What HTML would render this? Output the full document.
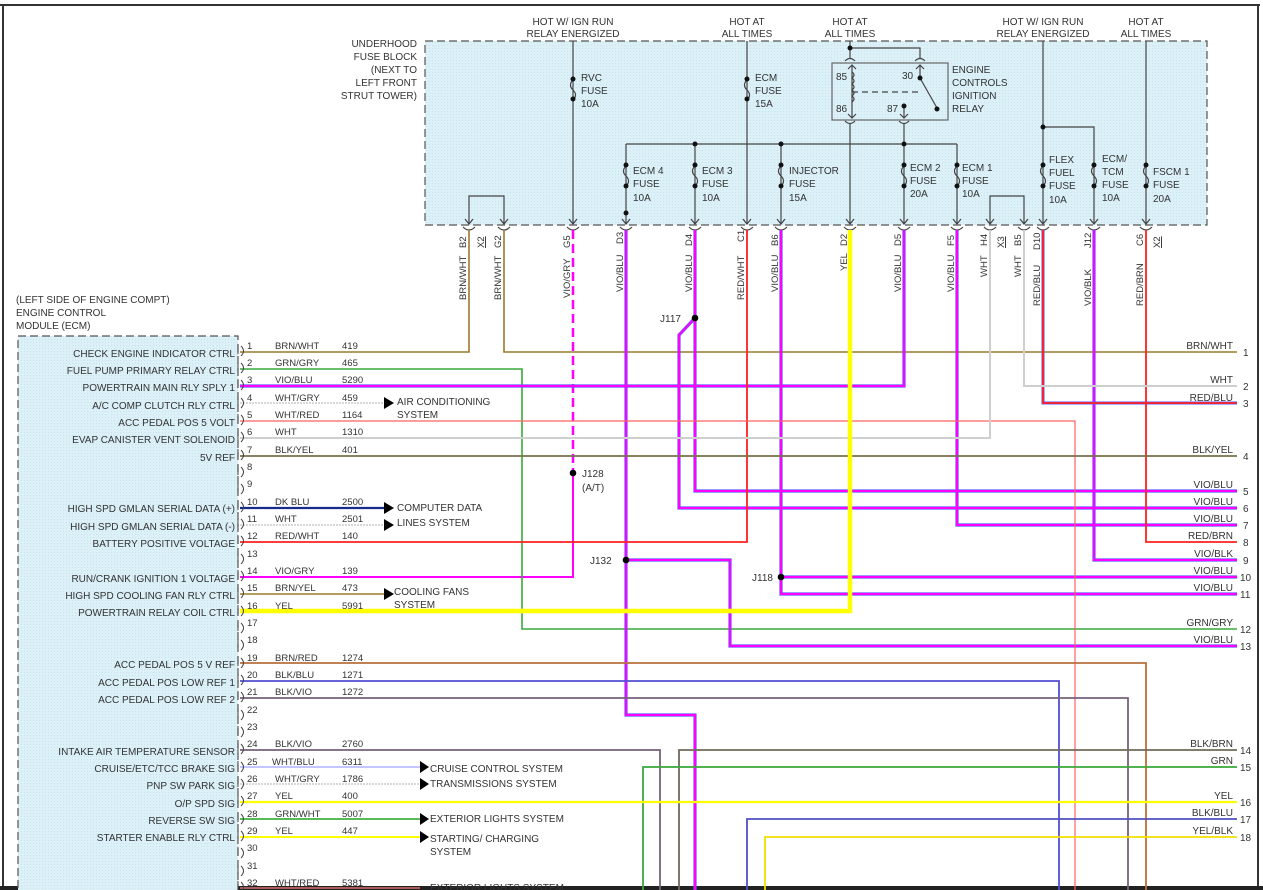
<!DOCTYPE html>
<html><head><meta charset="utf-8"><style>
html,body{margin:0;padding:0;background:#fff;}
svg{display:block;font-family:"Liberation Sans",sans-serif;font-size:10px;fill:#333;}
</style></head><body>
<svg width="1263" height="890" viewBox="0 0 1263 890" xmlns="http://www.w3.org/2000/svg">
<defs>
<pattern id="dots" width="3" height="3" patternUnits="userSpaceOnUse"><rect width="3" height="3" fill="#dcf0f8"/><rect width="1" height="1" fill="#c8e2ee"/></pattern>
</defs>
<rect x="0" y="0" width="1263" height="890" fill="#fff"/>
<!-- frame -->
<line x1="0" y1="5" x2="1260" y2="5" stroke="#333" stroke-width="2"/>
<line x1="3" y1="5" x2="3" y2="890" stroke="#333" stroke-width="2"/>
<line x1="1258" y1="5" x2="1258" y2="890" stroke="#333" stroke-width="2"/>
<rect x="0" y="886" width="1263" height="4" fill="#222"/>

<!-- fuse block -->
<rect x="425" y="41" width="782" height="184" fill="url(#dots)" stroke="#555" stroke-width="1.2" stroke-dasharray="8,4"/>
<!-- ECM -->
<rect x="18" y="336" width="220" height="560" fill="url(#dots)" stroke="#555" stroke-width="1.2" stroke-dasharray="8,4"/>

<g text-anchor="middle">
<text x="573" y="25">HOT W/ IGN RUN</text><text x="573" y="37">RELAY ENERGIZED</text>
<text x="747" y="25">HOT AT</text><text x="747" y="37">ALL TIMES</text>
<text x="850" y="25">HOT AT</text><text x="850" y="37">ALL TIMES</text>
<text x="1043" y="25">HOT W/ IGN RUN</text><text x="1043" y="37">RELAY ENERGIZED</text>
<text x="1146" y="25">HOT AT</text><text x="1146" y="37">ALL TIMES</text>
</g>
<g text-anchor="end">
<text x="417" y="47">UNDERHOOD</text><text x="417" y="60">FUSE BLOCK</text><text x="417" y="73">(NEXT TO</text><text x="417" y="86">LEFT FRONT</text><text x="417" y="99">STRUT TOWER)</text>
</g>

<!-- internal fuse block wiring -->
<g stroke="#444" stroke-width="1.2" fill="none">
<line x1="573" y1="41" x2="573" y2="224"/>
<line x1="747" y1="41" x2="747" y2="224"/>
<polyline points="469,224 469,196 504,196 504,224"/>
<polyline points="990,224 990,196 1024,196 1024,224"/>
<line x1="626" y1="144" x2="957" y2="144"/>
<line x1="626" y1="144" x2="626" y2="224"/>
<line x1="695" y1="144" x2="695" y2="224"/>
<line x1="781" y1="144" x2="781" y2="224"/>
<line x1="904" y1="124" x2="904" y2="224"/>
<line x1="957" y1="144" x2="957" y2="224"/>
<line x1="850" y1="41" x2="850" y2="58"/>
<polyline points="850,48 920,48 920,58"/>
<line x1="850" y1="124" x2="850" y2="224"/>
<line x1="1043" y1="41" x2="1043" y2="224"/>
<polyline points="1043,127 1094,127 1094,224"/>
<line x1="1146" y1="41" x2="1146" y2="224"/>
<rect x="832" y="63" width="116" height="57" stroke="#666"/>
<line x1="852" y1="66" x2="852" y2="117"/>
<line x1="920" y1="66" x2="920" y2="78"/>
<line x1="920" y1="78" x2="937" y2="108"/>
<line x1="904" y1="106" x2="904" y2="117"/>
<line x1="852" y1="92" x2="920" y2="92" stroke-dasharray="6,4"/>
</g>
<!-- fuse symbols: white gap + s curve -->
<g stroke="#444" stroke-width="1.2" fill="none">
<path d="M573,80 q-5,5 0,10 q5,5 0,10" /><path d="M747,80 q-5,5 0,10 q5,5 0,10"/>
<path d="M626,166 q-5,5 0,10 q5,5 0,10"/><path d="M695,166 q-5,5 0,10 q5,5 0,10"/>
<path d="M781,166 q-5,5 0,10 q5,5 0,10"/><path d="M904,166 q-5,5 0,10 q5,5 0,10"/>
<path d="M957,166 q-5,5 0,10 q5,5 0,10"/><path d="M1043,166 q-5,5 0,10 q5,5 0,10"/>
<path d="M1094,166 q-5,5 0,10 q5,5 0,10"/><path d="M1146,166 q-5,5 0,10 q5,5 0,10"/>
<path d="M852,72 q4,3 0,6 q4,3 0,6 q4,3 0,6 q4,3 0,6 q4,3 0,6"/>
</g>
<g fill="#111">
<circle cx="573" cy="79" r="2.5"/><circle cx="573" cy="99" r="2.5"/>
<circle cx="747" cy="79" r="2.5"/><circle cx="747" cy="99" r="2.5"/>
<circle cx="626" cy="165" r="2.5"/><circle cx="626" cy="186" r="2.5"/><circle cx="626" cy="213" r="2.5"/>
<circle cx="695" cy="165" r="2.5"/><circle cx="695" cy="186" r="2.5"/>
<circle cx="781" cy="165" r="2.5"/><circle cx="781" cy="186" r="2.5"/>
<circle cx="904" cy="165" r="2.5"/><circle cx="904" cy="186" r="2.5"/>
<circle cx="957" cy="165" r="2.5"/><circle cx="957" cy="186" r="2.5"/>
<circle cx="1043" cy="165" r="2.5"/><circle cx="1043" cy="186" r="2.5"/>
<circle cx="1094" cy="165" r="2.5"/><circle cx="1094" cy="186" r="2.5"/>
<circle cx="1146" cy="165" r="2.5"/><circle cx="1146" cy="186" r="2.5"/>
<circle cx="695" cy="144" r="2.5"/><circle cx="781" cy="144" r="2.5"/><circle cx="904" cy="144" r="2.5"/>
<circle cx="850" cy="48" r="2.5"/><circle cx="1043" cy="127" r="2.5"/>
<circle cx="920" cy="78" r="2.5"/><circle cx="937" cy="109" r="2.5"/><circle cx="904" cy="106" r="2.5"/>
</g>
<!-- cups in/out relay -->
<g stroke="#444" stroke-width="1.2" fill="none">
<path d="M845,61 q5,-5 10,0"/><path d="M915,61 q5,-5 10,0"/>
<path d="M845,121 q5,5 10,0"/><path d="M899,121 q5,5 10,0"/>
<path d="M848,69 l4,-4 l4,4"/><path d="M916,69 l4,-4 l4,4"/>
<path d="M848,114 l4,4 l4,-4"/><path d="M900,114 l4,4 l4,-4"/>
</g>
<text x="836" y="80">85</text><text x="836" y="112">86</text><text x="902" y="79">30</text><text x="887" y="112">87</text>
<text x="952" y="73">ENGINE</text><text x="952" y="86">CONTROLS</text><text x="952" y="99">IGNITION</text><text x="952" y="112">RELAY</text>

<g>
<text x="581" y="81">RVC</text><text x="581" y="94">FUSE</text><text x="581" y="107">10A</text>
<text x="755" y="81">ECM</text><text x="755" y="94">FUSE</text><text x="755" y="107">15A</text>
<text x="633" y="174">ECM 4</text><text x="633" y="187">FUSE</text><text x="633" y="201">10A</text>
<text x="702" y="174">ECM 3</text><text x="702" y="187">FUSE</text><text x="702" y="201">10A</text>
<text x="789" y="174">INJECTOR</text><text x="789" y="187">FUSE</text><text x="789" y="201">15A</text>
<text x="910" y="171">ECM 2</text><text x="910" y="184">FUSE</text><text x="910" y="197">20A</text>
<text x="962" y="171">ECM 1</text><text x="962" y="184">FUSE</text><text x="962" y="197">10A</text>
<text x="1049" y="163">FLEX</text><text x="1049" y="176">FUEL</text><text x="1049" y="189">FUSE</text><text x="1049" y="203">10A</text>
<text x="1102" y="162">ECM/</text><text x="1102" y="175">TCM</text><text x="1102" y="188">FUSE</text><text x="1102" y="201">10A</text>
<text x="1153" y="175">FSCM 1</text><text x="1153" y="188">FUSE</text><text x="1153" y="202">20A</text>
</g>

<!-- arrows & cups at bottom of fuse block -->
<g stroke="#444" stroke-width="1.2" fill="none">
<path d="M465,219 l4,5 l4,-5 M500,219 l4,5 l4,-5 M569,219 l4,5 l4,-5 M622,219 l4,5 l4,-5 M691,219 l4,5 l4,-5 M743,219 l4,5 l4,-5 M777,219 l4,5 l4,-5 M846,219 l4,5 l4,-5 M900,219 l4,5 l4,-5 M953,219 l4,5 l4,-5 M986,219 l4,5 l4,-5 M1020,219 l4,5 l4,-5 M1039,219 l4,5 l4,-5 M1090,219 l4,5 l4,-5 M1142,219 l4,5 l4,-5"/>
<path d="M463,227 q6,6 12,0 M498,227 q6,6 12,0 M567,227 q6,6 12,0 M620,227 q6,6 12,0 M689,227 q6,6 12,0 M741,227 q6,6 12,0 M775,227 q6,6 12,0 M844,227 q6,6 12,0 M898,227 q6,6 12,0 M951,227 q6,6 12,0 M984,227 q6,6 12,0 M1018,227 q6,6 12,0 M1037,227 q6,6 12,0 M1088,227 q6,6 12,0 M1140,227 q6,6 12,0"/>
</g>

<!-- vertical connector labels -->
<g font-size="9.5">
<text transform="translate(466,248) rotate(-90)">B2</text><text transform="translate(466,300) rotate(-90)">BRN/WHT</text>
<text transform="translate(484,248) rotate(-90)" text-decoration="underline">X2</text>
<text transform="translate(501,248) rotate(-90)">G2</text><text transform="translate(501,300) rotate(-90)">BRN/WHT</text>
<text transform="translate(570,248) rotate(-90)">G5</text><text transform="translate(570,298) rotate(-90)">VIO/GRY</text>
<text transform="translate(623,244) rotate(-90)">D3</text><text transform="translate(623,292) rotate(-90)">VIO/BLU</text>
<text transform="translate(692,246) rotate(-90)">D4</text><text transform="translate(692,292) rotate(-90)">VIO/BLU</text>
<text transform="translate(744,242) rotate(-90)">C1</text><text transform="translate(744,300) rotate(-90)">RED/WHT</text>
<text transform="translate(778,246) rotate(-90)">B6</text><text transform="translate(778,292) rotate(-90)">VIO/BLU</text>
<text transform="translate(847,246) rotate(-90)">D2</text><text transform="translate(847,271) rotate(-90)">YEL</text>
<text transform="translate(901,246) rotate(-90)">D5</text><text transform="translate(901,292) rotate(-90)">VIO/BLU</text>
<text transform="translate(954,246) rotate(-90)">F5</text><text transform="translate(954,292) rotate(-90)">VIO/BLU</text>
<text transform="translate(987,246) rotate(-90)">H4</text><text transform="translate(987,277) rotate(-90)">WHT</text>
<text transform="translate(1004,248) rotate(-90)" text-decoration="underline">X3</text>
<text transform="translate(1021,246) rotate(-90)">B5</text><text transform="translate(1021,277) rotate(-90)">WHT</text>
<text transform="translate(1040,250) rotate(-90)">D10</text><text transform="translate(1040,306) rotate(-90)">RED/BLU</text>
<text transform="translate(1091,248) rotate(-90)">J12</text><text transform="translate(1091,306) rotate(-90)">VIO/BLK</text>
<text transform="translate(1143,246) rotate(-90)">C6</text><text transform="translate(1143,306) rotate(-90)">RED/BRN</text>
<text transform="translate(1160,248) rotate(-90)" text-decoration="underline">X2</text>
</g>

<!-- wires -->
<g fill="none" stroke-linejoin="miter">
<!-- brown/wht -->
<polyline points="469,230 469,352 240,352" stroke="#9c7a2c" stroke-width="1.6"/>
<polyline points="504,230 504,352 1237,352" stroke="#9c7a2c" stroke-width="1.6"/>
<!-- G5 dashed magenta to J128 -->
<line x1="573" y1="230" x2="573" y2="473" stroke="#ff00ff" stroke-width="2.5" stroke-dasharray="9,5"/>
<polyline points="573,473 573,577 240,577" stroke="#ff00ff" stroke-width="2"/>
<!-- row 2 GRN/GRY -->
<polyline points="240,369 522,369 522,629 1237,629" stroke="#3aa83a" stroke-width="1.6"/>
<!-- VIO/BLU style: blue under, magenta over -->
<g stroke="#5a5aff" stroke-width="3.2">
<polyline points="626,230 626,715 695,715 695,890"/>
<polyline points="626,560 730,560 730,646 1237,646"/>
<polyline points="695,230 695,491 1237,491"/>
<polyline points="695,318 679,335 679,508 1237,508"/>
<polyline points="781,230 781,594 1237,594"/>
<polyline points="781,577 1237,577"/>
<polyline points="904,230 904,386 240,386"/>
<polyline points="957,230 957,525 1237,525"/>
<polyline points="1094,230 1094,560 1237,560"/>
</g>
<g stroke="#ff00ff" stroke-width="2">
<polyline points="626,230 626,715 695,715 695,890"/>
<polyline points="626,560 730,560 730,646 1237,646"/>
<polyline points="695,230 695,491 1237,491"/>
<polyline points="695,318 679,335 679,508 1237,508"/>
<polyline points="781,230 781,594 1237,594"/>
<polyline points="781,577 1237,577"/>
<polyline points="904,230 904,386 240,386"/>
<polyline points="957,230 957,525 1237,525"/>
<polyline points="1094,230 1094,560 1237,560"/>
</g>
<!-- reds -->
<polyline points="747,230 747,542 240,542" stroke="#ff2020" stroke-width="1.8"/>
<polyline points="1043,230 1043,403 1237,403" stroke="#5a5aff" stroke-width="3"/>
<polyline points="1043,230 1043,403 1237,403" stroke="#ff2020" stroke-width="1.8"/>
<polyline points="1146,230 1146,542 1237,542" stroke="#ff2020" stroke-width="1.8"/>
<polyline points="240,421 1075,421 1075,890" stroke="#ff6060" stroke-width="1.2"/>
<!-- whites -->
<polyline points="990,230 990,438 240,438" stroke="#cfcfcf" stroke-width="2"/>
<polyline points="1024,230 1024,386 1237,386" stroke="#cfcfcf" stroke-width="2"/>
<!-- BLK/YEL -->
<line x1="240" y1="456" x2="1237" y2="456" stroke="#77704a" stroke-width="1.8"/>
<!-- yellow thick -->
<polyline points="850,230 850,611 240,611" stroke="#ffff00" stroke-width="4.5"/>
<!-- arrow stubs -->
<line x1="240" y1="403" x2="384" y2="403" stroke="#cccccc" stroke-width="1.5" stroke-dasharray="2,1"/>
<line x1="240" y1="508" x2="384" y2="508" stroke="#1a2a8a" stroke-width="2.2"/>
<line x1="240" y1="525" x2="384" y2="525" stroke="#cccccc" stroke-width="1.5" stroke-dasharray="2,1"/>
<line x1="240" y1="594" x2="384" y2="594" stroke="#9c7a2c" stroke-width="1.6"/>
<!-- lower rows -->
<polyline points="240,663 1146,663 1146,890" stroke="#b8703c" stroke-width="1.8"/>
<polyline points="240,681 1059,681 1059,890" stroke="#5050d0" stroke-width="1.8"/>
<polyline points="240,698 1128,698 1128,890" stroke="#76627a" stroke-width="1.8"/>
<polyline points="240,750 660,750 660,890" stroke="#76627a" stroke-width="1.8"/>
<polyline points="1237,750 679,750 679,890" stroke="#706a58" stroke-width="1.8"/>
<polyline points="1237,767 643,767 643,890" stroke="#3aa83a" stroke-width="1.8"/>
<line x1="240" y1="802" x2="1237" y2="802" stroke="#ffff00" stroke-width="2.2"/>
<polyline points="1237,819 747,819 747,890" stroke="#5050c0" stroke-width="1.8"/>
<polyline points="1237,837 765,837 765,890" stroke="#f0e000" stroke-width="1.8"/>
<line x1="240" y1="767" x2="420" y2="767" stroke="#b0b0ff" stroke-width="1.6"/>
<line x1="240" y1="784" x2="420" y2="784" stroke="#cccccc" stroke-width="1.5" stroke-dasharray="2,1"/>
<line x1="240" y1="819" x2="420" y2="819" stroke="#40b040" stroke-width="1.8"/>
<line x1="240" y1="837" x2="420" y2="837" stroke="#ffff00" stroke-width="2"/>
<line x1="240" y1="888" x2="420" y2="888" stroke="#ff8080" stroke-width="1.2"/>
</g>
<!-- arrowheads -->
<g fill="#000">
<path d="M384,397 l10,6 l-10,6z"/><path d="M384,502 l10,6 l-10,6z"/><path d="M384,519 l10,6 l-10,6z"/><path d="M384,588 l10,6 l-10,6z"/>
<path d="M420,761 l9,6 l-9,6z"/><path d="M420,778 l9,6 l-9,6z"/><path d="M420,813 l9,6 l-9,6z"/><path d="M420,831 l9,6 l-9,6z"/>
</g>
<!-- splices -->
<g fill="#000"><circle cx="695" cy="318" r="3.3"/><circle cx="573" cy="473" r="3.3"/><circle cx="626" cy="560" r="3.3"/><circle cx="781" cy="577" r="3.3"/></g>
<text x="660" y="322">J117</text><text x="582" y="477">J128</text><text x="582" y="491">(A/T)</text><text x="590" y="564">J132</text><text x="752" y="581">J118</text>
<text x="397" y="405">AIR CONDITIONING</text><text x="397" y="418">SYSTEM</text>
<text x="397" y="511">COMPUTER DATA</text><text x="397" y="526">LINES SYSTEM</text>
<text x="394" y="595">COOLING FANS</text><text x="394" y="608">SYSTEM</text>
<text x="430" y="772">CRUISE CONTROL SYSTEM</text><text x="430" y="787">TRANSMISSIONS SYSTEM</text>
<text x="430" y="822">EXTERIOR LIGHTS SYSTEM</text><text x="430" y="842">STARTING/ CHARGING</text><text x="430" y="855">SYSTEM</text>
<text x="430" y="891">EXTERIOR LIGHTS SYSTEM</text>

<!-- ECM title -->
<text x="16" y="303">(LEFT SIDE OF ENGINE COMPT)</text><text x="16" y="316">ENGINE CONTROL</text><text x="16" y="329">MODULE (ECM)</text>

<!-- ECM pin cups -->
<g stroke="#444" stroke-width="1" fill="none">
<path d="M238,345 v9 M241,346 q5,5 0,10 M238,362 v9 M241,363 q5,5 0,10 M238,379 v9 M241,380 q5,5 0,10 M238,397 v9 M241,398 q5,5 0,10 M238,414 v9 M241,415 q5,5 0,10 M238,431 v9 M241,432 q5,5 0,10 M238,449 v9 M241,450 q5,5 0,10 M238,466 v9 M241,467 q5,5 0,10 M238,483 v9 M241,484 q5,5 0,10 M238,501 v9 M241,502 q5,5 0,10 M238,518 v9 M241,519 q5,5 0,10 M238,535 v9 M241,536 q5,5 0,10 M238,553 v9 M241,554 q5,5 0,10 M238,570 v9 M241,571 q5,5 0,10 M238,587 v9 M241,588 q5,5 0,10 M238,605 v9 M241,606 q5,5 0,10 M238,622 v9 M241,623 q5,5 0,10 M238,639 v9 M241,640 q5,5 0,10 M238,657 v9 M241,658 q5,5 0,10 M238,674 v9 M241,675 q5,5 0,10 M238,691 v9 M241,692 q5,5 0,10 M238,709 v9 M241,710 q5,5 0,10 M238,726 v9 M241,727 q5,5 0,10 M238,743 v9 M241,744 q5,5 0,10 M238,761 v9 M241,762 q5,5 0,10 M238,778 v9 M241,779 q5,5 0,10 M238,795 v9 M241,796 q5,5 0,10 M238,813 v9 M241,814 q5,5 0,10 M238,830 v9 M241,831 q5,5 0,10 M238,847 v9 M241,848 q5,5 0,10 M238,865 v9 M241,866 q5,5 0,10 M238,881 v9 M241,882 q5,5 0,10"/>
</g>
<!-- ECM labels -->
<g text-anchor="end">
<text x="235" y="357">CHECK ENGINE INDICATOR CTRL</text>
<text x="235" y="374">FUEL PUMP PRIMARY RELAY CTRL</text>
<text x="235" y="391">POWERTRAIN MAIN RLY SPLY 1</text>
<text x="235" y="409">A/C COMP CLUTCH RLY CTRL</text>
<text x="235" y="426">ACC PEDAL POS 5 VOLT</text>
<text x="235" y="443">EVAP CANISTER VENT SOLENOID</text>
<text x="235" y="461">5V REF</text>
<text x="235" y="512">HIGH SPD GMLAN SERIAL DATA (+)</text>
<text x="235" y="530">HIGH SPD GMLAN SERIAL DATA (-)</text>
<text x="235" y="547">BATTERY POSITIVE VOLTAGE</text>
<text x="235" y="582">RUN/CRANK IGNITION 1 VOLTAGE</text>
<text x="235" y="599">HIGH SPD COOLING FAN RLY CTRL</text>
<text x="235" y="616">POWERTRAIN RELAY COIL CTRL</text>
<text x="235" y="668">ACC PEDAL POS 5 V REF</text>
<text x="235" y="686">ACC PEDAL POS LOW REF 1</text>
<text x="235" y="703">ACC PEDAL POS LOW REF 2</text>
<text x="235" y="755">INTAKE AIR TEMPERATURE SENSOR</text>
<text x="235" y="772">CRUISE/ETC/TCC BRAKE SIG</text>
<text x="235" y="789">PNP SW PARK SIG</text>
<text x="235" y="807">O/P SPD SIG</text>
<text x="235" y="824">REVERSE SW SIG</text>
<text x="235" y="841">STARTER ENABLE RLY CTRL</text>
</g>
<!-- pin numbers, colors, circuits -->
<g font-size="9.5">
<text x="247" y="349">1</text><text x="275" y="349">BRN/WHT</text><text x="342" y="349">419</text>
<text x="247" y="366">2</text><text x="275" y="366">GRN/GRY</text><text x="342" y="366">465</text>
<text x="247" y="383">3</text><text x="275" y="383">VIO/BLU</text><text x="342" y="383">5290</text>
<text x="247" y="401">4</text><text x="275" y="401">WHT/GRY</text><text x="342" y="401">459</text>
<text x="247" y="418">5</text><text x="275" y="418">WHT/RED</text><text x="342" y="418">1164</text>
<text x="247" y="435">6</text><text x="275" y="435">WHT</text><text x="342" y="435">1310</text>
<text x="247" y="453">7</text><text x="275" y="453">BLK/YEL</text><text x="342" y="453">401</text>
<text x="247" y="470">8</text>
<text x="247" y="487">9</text>
<text x="247" y="505">10</text><text x="275" y="505">DK BLU</text><text x="342" y="505">2500</text>
<text x="247" y="522">11</text><text x="275" y="522">WHT</text><text x="342" y="522">2501</text>
<text x="247" y="539">12</text><text x="275" y="539">RED/WHT</text><text x="342" y="539">140</text>
<text x="247" y="557">13</text>
<text x="247" y="574">14</text><text x="275" y="574">VIO/GRY</text><text x="342" y="574">139</text>
<text x="247" y="591">15</text><text x="275" y="591">BRN/YEL</text><text x="342" y="591">473</text>
<text x="247" y="609">16</text><text x="275" y="609">YEL</text><text x="342" y="609">5991</text>
<text x="247" y="626">17</text>
<text x="247" y="643">18</text>
<text x="247" y="661">19</text><text x="275" y="661">BRN/RED</text><text x="342" y="661">1274</text>
<text x="247" y="678">20</text><text x="275" y="678">BLK/BLU</text><text x="342" y="678">1271</text>
<text x="247" y="695">21</text><text x="275" y="695">BLK/VIO</text><text x="342" y="695">1272</text>
<text x="247" y="713">22</text>
<text x="247" y="730">23</text>
<text x="247" y="747">24</text><text x="275" y="747">BLK/VIO</text><text x="342" y="747">2760</text>
<text x="247" y="765">25</text><text x="272" y="765">WHT/BLU</text><text x="342" y="765">6311</text>
<text x="247" y="782">26</text><text x="275" y="782">WHT/GRY</text><text x="342" y="782">1786</text>
<text x="247" y="799">27</text><text x="275" y="799">YEL</text><text x="342" y="799">400</text>
<text x="247" y="817">28</text><text x="275" y="817">GRN/WHT</text><text x="342" y="817">5007</text>
<text x="247" y="834">29</text><text x="275" y="834">YEL</text><text x="342" y="834">447</text>
<text x="247" y="851">30</text>
<text x="247" y="869">31</text>
<text x="247" y="886">32</text><text x="275" y="886">WHT/RED</text><text x="342" y="886">5381</text>
</g>
<!-- right labels -->
<g text-anchor="end">
<text x="1233" y="349">BRN/WHT</text><text x="1233" y="383">WHT</text><text x="1233" y="401">RED/BLU</text>
<text x="1233" y="453">BLK/YEL</text><text x="1233" y="488">VIO/BLU</text><text x="1233" y="505">VIO/BLU</text>
<text x="1233" y="522">VIO/BLU</text><text x="1233" y="539">RED/BRN</text><text x="1233" y="557">VIO/BLK</text>
<text x="1233" y="574">VIO/BLU</text><text x="1233" y="591">VIO/BLU</text><text x="1233" y="626">GRN/GRY</text>
<text x="1233" y="643">VIO/BLU</text><text x="1233" y="747">BLK/BRN</text><text x="1233" y="764">GRN</text>
<text x="1233" y="799">YEL</text><text x="1233" y="816">BLK/BLU</text><text x="1233" y="834">YEL/BLK</text>
</g>
<g>
<text x="1243" y="356">1</text><text x="1243" y="390">2</text><text x="1243" y="407">3</text><text x="1243" y="460">4</text>
<text x="1243" y="495">5</text><text x="1243" y="512">6</text><text x="1243" y="529">7</text><text x="1243" y="546">8</text>
<text x="1243" y="564">9</text><text x="1240" y="581">10</text><text x="1240" y="598">11</text><text x="1240" y="633">12</text>
<text x="1240" y="650">13</text><text x="1240" y="754">14</text><text x="1240" y="771">15</text><text x="1240" y="806">16</text>
<text x="1240" y="823">17</text><text x="1240" y="841">18</text>
</g>
</svg>
</body></html>
